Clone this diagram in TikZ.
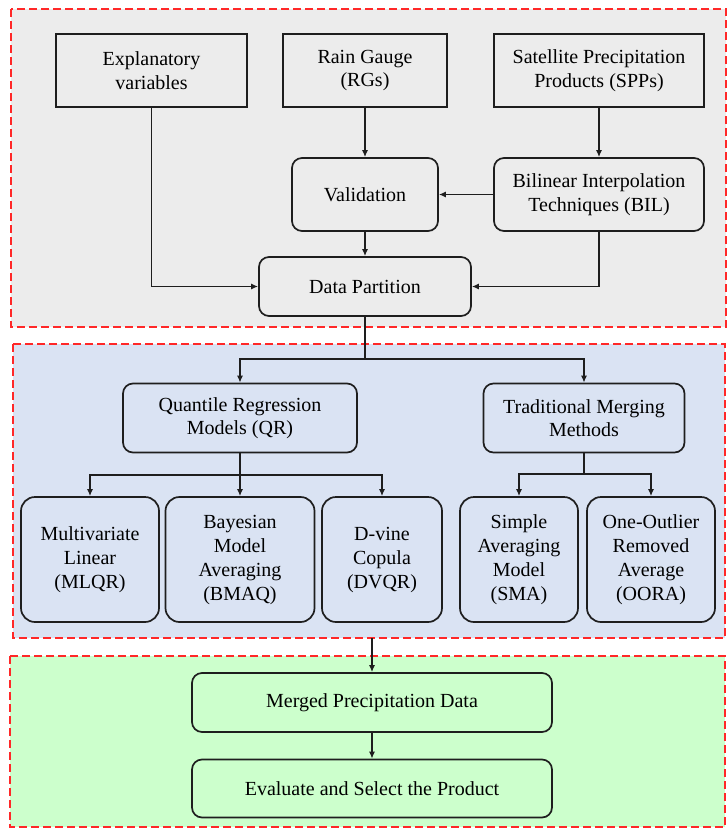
\documentclass[tikz,border=0pt]{standalone}
\usepackage{fontspec}
\setmainfont{Liberation Serif}
\usetikzlibrary{arrows.meta}
\definecolor{topbg}{RGB}{236,236,236}
\definecolor{midbg}{RGB}{218,227,243}
\definecolor{botbg}{RGB}{204,255,204}
\definecolor{framered}{RGB}{255,40,40}
\definecolor{ink}{RGB}{30,30,30}
\tikzset{
  frame/.style={draw=framered, line width=1.8pt, dash pattern=on 8pt off 4pt},
  box/.style={draw=ink, line width=1.7pt, align=center, inner sep=0pt,
    font=\fontsize{20}{23.5}\selectfont},
  sqbox/.style={box, rectangle},
  rbox/.style={box, rounded corners=10pt},
  tallbox/.style={box, rounded corners=14pt, font=\fontsize{20}{24}\selectfont},
  arr/.style={draw=ink, line width=1.6pt, -{Latex[length=7pt,width=6pt]}},
  ln/.style={draw=ink, line width=1.6pt}
}
\begin{document}
\begin{tikzpicture}[x=1pt,y=-1pt]
\useasboundingbox (0,0) rectangle (727,831);
% section frames
\draw[frame, fill=topbg] (11,9) rectangle (726,327);
\draw[frame, fill=midbg] (13,344) rectangle (725,638);
\draw[frame, fill=botbg] (10,656) rectangle (725,827);

% top section
\node[sqbox, fill=topbg, minimum width=191pt, minimum height=73pt] (expl) at (151.5,70.5) {Explanatory\\variables};
\node[sqbox, fill=topbg, minimum width=164pt, minimum height=73pt] (rg) at (365,70.5) {Rain Gauge\\(RGs)};
\node[sqbox, fill=topbg, minimum width=210pt, minimum height=73pt] (spp) at (599,70.5) {Satellite Precipitation\\Products (SPPs)};
\node[rbox, fill=topbg, minimum width=146pt, minimum height=73pt] (val) at (365,194.5) {Validation};
\node[rbox, fill=topbg, minimum width=210pt, minimum height=73pt] (bil) at (599,194.5) {Bilinear Interpolation\\Techniques (BIL)};
\node[rbox, fill=topbg, minimum width=212pt, minimum height=59pt] (dp) at (365,286.5) {Data Partition};

\draw[arr] (rg.south) -- (val.north);
\draw[arr] (spp.south) -- (bil.north);
\draw[arr] (bil.west) -- (val.east);
\draw[arr] (val.south) -- (dp.north);
\draw[arr] (expl.south) |- (dp.west);
\draw[arr] (bil.south) |- (dp.east);

% middle section
\node[rbox, fill=midbg, minimum width=234pt, minimum height=69pt] (qr) at (240,418) {Quantile Regression\\Models (QR)};
\node[rbox, fill=midbg, minimum width=201pt, minimum height=69pt] (tmm) at (584,418) {Traditional Merging\\Methods};

\coordinate (s1) at (365,359);
\draw[ln] (dp.south) -- (s1);
\draw[arr] (s1) -| (qr.north);
\draw[arr] (s1) -| (tmm.north);

\node[tallbox, fill=midbg, minimum width=138pt, minimum height=125pt] (mlqr) at (90,559.5) {Multivariate\\Linear\\(MLQR)};
\node[tallbox, fill=midbg, minimum width=149pt, minimum height=125pt] (bmaq) at (240,559.5) {Bayesian\\Model\\Averaging\\(BMAQ)};
\node[tallbox, fill=midbg, minimum width=120pt, minimum height=125pt] (dvqr) at (382,559.5) {D-vine\\Copula\\(DVQR)};
\node[tallbox, fill=midbg, minimum width=118pt, minimum height=125pt] (sma) at (519,559.5) {Simple\\Averaging\\Model\\(SMA)};
\node[tallbox, fill=midbg, minimum width=128pt, minimum height=125pt] (oora) at (651,559.5) {One-Outlier\\Removed\\Average\\(OORA)};

\coordinate (s2) at (240,475);
\draw[ln] (qr.south) -- (s2);
\draw[arr] (s2) -| (mlqr.north);
\draw[arr] (s2) -- (bmaq.north);
\draw[arr] (s2) -| (dvqr.north);

\coordinate (s3) at (584,474);
\draw[ln] (tmm.south) -- (s3);
\draw[arr] (s3) -| (sma.north);
\draw[arr] (s3) -| (oora.north);

% bottom section
\node[rbox, fill=botbg, minimum width=360pt, minimum height=59pt] (merged) at (372,702.5) {Merged Precipitation Data};
\node[rbox, fill=botbg, minimum width=360pt, minimum height=58pt] (eval) at (372,788.5) {Evaluate and Select the Product};

\coordinate (m1) at (372,638);
\draw[arr] (m1) -- (merged.north);
\draw[arr] (merged.south) -- (eval.north);
\end{tikzpicture}
\end{document}
